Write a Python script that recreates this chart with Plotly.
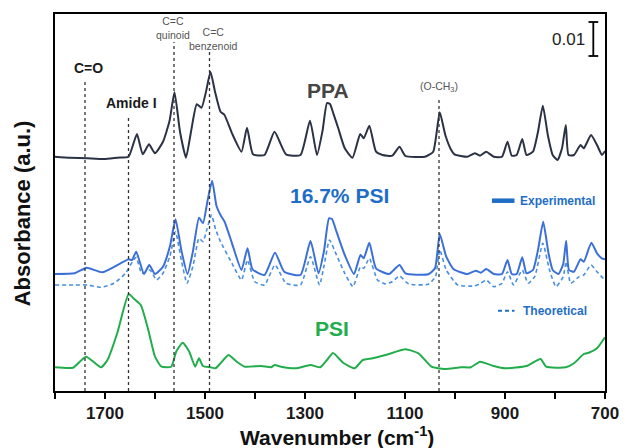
import plotly.graph_objects as go

# ---------------- data (wavenumber cm^-1, stacked absorbance in a.u.) ----------------
ppa_wn = [1800, 1770, 1735, 1702, 1675, 1653, 1643, 1636, 1624.5, 1612, 1600, 1584, 1571, 1561, 1550, 1538,
          1528, 1516.5, 1507, 1498, 1489, 1480, 1469, 1461, 1446, 1427, 1416, 1404, 1381, 1361, 1338, 1309,
          1290, 1276, 1265, 1256, 1250, 1243.4, 1233.5, 1220.5, 1205, 1189.6, 1182.5, 1171.3, 1158, 1145,
          1125.5, 1111, 1099, 1060, 1043.6, 1030.5, 1019.4, 1007.6, 1001, 975, 960.5, 950, 937.5, 922.5,
          906, 895, 886.5, 876.6, 865.5, 857, 844, 834, 824.3, 814.4, 804.6, 794.8, 786, 778.4, 773, 762,
          749, 742.4, 728, 716, 706, 700]
ppa_abs = [234.3, 233.3, 232.7, 232, 233.3, 234.3, 247.7, 257, 236.7, 246.7, 237.7, 249.3, 270, 298.7, 259.3, 233.3,
           259.3, 286.7, 283.3, 299.3, 319.3, 299.3, 279.3, 276, 257.7, 239.3, 263.3, 236.7, 236, 259.3, 236.7, 236,
           270.3, 236, 260, 288, 287, 277.7, 262.7, 242.7, 233.3, 257, 252.7, 265.3, 239.3, 236,
           235.3, 244.3, 235, 234.3, 239.3, 278.7, 256, 241, 236.7, 234.3, 237.7, 235.3, 239.3, 234.3,
           234.3, 249.3, 235.3, 236, 252, 236, 239.3, 259.3, 285.3, 256, 236, 231, 242.7, 266, 236, 236,
           246, 242.7, 256, 246, 236, 240]

exp_wn = [1800, 1760.7, 1736.5, 1705, 1652.7, 1646, 1637.6, 1622, 1611.4, 1600, 1584, 1570, 1559, 1547, 1535,
          1524, 1512, 1504, 1495, 1485.7, 1477, 1469, 1460.8, 1446, 1427, 1415, 1405, 1381, 1360, 1341.6, 1309,
          1289, 1273, 1262, 1252, 1246, 1237, 1220.5, 1202, 1189, 1182.5, 1171.3, 1158, 1132, 1111, 1099,
          1053.5, 1040, 1030.5, 1017.5, 1002.4, 975, 958.5, 948.6, 937.5, 922.5, 906, 895, 886.5, 876.6,
          865.5, 857, 844, 834, 823.6, 813, 804.6, 793, 783.6, 777.7, 772, 762, 749, 742.4, 727.3, 716,
          706.4, 700]
exp_abs = [117, 117.7, 123.3, 118.7, 131.7, 131, 139.3, 117, 126, 117, 124.3, 145, 171.7, 140, 117,
           140, 173.3, 167.7, 190, 210.3, 185, 176, 169.3, 147.7, 121, 142.7, 121.7, 116, 138.3, 119.3, 116,
           150, 117.7, 140, 172.7, 172, 159.3, 136, 117, 136, 132.7, 148.3, 122.7, 117, 126, 117.7,
           116.7, 122.7, 157, 134.3, 121.7, 117, 120.3, 118.3, 122, 117, 117, 131, 117, 117,
           133.7, 117.7, 121, 141, 169.3, 137.7, 121, 117, 127, 150.3, 121, 119.3, 131.7, 129.3, 148.3, 137.7,
           132.7, 131.7]

theo_wn = [1800, 1760, 1734.5, 1708, 1682, 1659, 1643, 1637.6, 1626.5, 1610, 1597, 1584, 1570, 1559, 1547,
           1536, 1524, 1512, 1504, 1496, 1487, 1479, 1469, 1446, 1427, 1415, 1400.5, 1381, 1360, 1338, 1309,
           1289, 1271, 1262, 1251, 1237, 1220.5, 1204, 1189, 1182.5, 1171.3, 1155, 1138.6, 1125.5, 1111,
           1092.7, 1053.5, 1039, 1030.5, 1017.5, 994.5, 962, 948.6, 937.5, 922.5, 906, 895, 883, 865.5,
           853.7, 840.6, 824.3, 811, 798, 783.6, 777.7, 768.6, 752, 742.4, 728, 716, 703, 700]
theo_abs = [106, 106, 106, 103.7, 107.7, 117.7, 131, 133.7, 117.7, 121, 111, 117.7, 135, 159.3, 130,
            107.7, 125, 152.7, 149.3, 162, 176, 162, 149.3, 127.7, 111, 131, 109.3, 106, 126, 107.7, 106,
            134.3, 106, 125, 151, 136, 117.7, 104.3, 124.3, 122.7, 132.7, 111, 107, 109.3, 115,
            107, 106.7, 114.3, 141, 121, 106, 105, 107.7, 111, 104.3, 107.7, 119.3, 106, 121,
            107.7, 114.3, 147.7, 121, 104.3, 114.3, 129.3, 107.7, 114.3, 116, 126, 119.3, 112.7, 114.3]

psi_wn = [1800, 1764, 1738, 1708, 1695, 1675.6, 1652.7, 1643, 1628.4, 1613.4, 1600, 1587, 1567.5, 1557.7,
          1544.6, 1531.5, 1519.7, 1512, 1504, 1489, 1479, 1469, 1453, 1436.5, 1420, 1387.4, 1367.8, 1361,
          1348, 1318.7, 1289, 1269.5, 1256, 1244, 1223.7, 1200.8, 1184.4, 1164.8, 1138.6, 1099, 1073, 1047,
          1020.7, 988, 968.3, 950, 922.5, 899.5, 857, 828.8, 817.7, 778.4, 762, 742.4, 732.5, 716, 700]
psi_abs = [23.7, 23.3, 34.3, 23.7, 31, 57.7, 97, 92.7, 86, 61, 34.3, 24.3, 24.3, 39.3,
           48.3, 39.3, 24.3, 32.7, 25, 23.7, 22.7, 27.7, 36, 29.3, 24.3, 25, 23.7, 26,
           24.3, 22.7, 26, 23.7, 31, 38, 28.3, 22.7, 31, 32.7, 36, 41.7, 37.7, 24.3,
           22, 23.7, 23.7, 29.3, 25, 22.7, 25, 32, 24.3, 23.7, 27.7, 37, 38.3, 42.7, 53.7]

band_wn = [1740, 1653, 1562, 1491, 1032]
band_top = [309, 273, 349, 339, 294]
band_labels = ["<b>C=O</b>", "<b>Amide I</b>", "C=C<br>quinoid", "C=C<br>benzenoid", "(O-CH<sub>3</sub>)"]
band_label_y = [323, 288, 363.5, 352, 304]

tick_vals = [1800, 1700, 1600, 1500, 1400, 1300, 1200, 1100, 1000, 900, 800, 700]
tick_text = [" " if v % 200 == 0 else "<b>%d</b>" % v for v in tick_vals]

scale_len = 34  # a.u. corresponding to 0.01 absorbance

FONT = "Liberation Sans, Arial, sans-serif"
C_PPA = "#2b3245"
C_EXP = "#3c70d8"
C_THEO = "#4a90dc"
C_PSI = "#22ad4c"
C_TXTBLUE = "#1f6ec6"

fig = go.Figure()
fig.add_trace(go.Scatter(x=psi_wn, y=psi_abs, mode="lines",
                         line=dict(color=C_PSI, width=2, shape="spline", smoothing=0.5)))
fig.add_trace(go.Scatter(x=theo_wn, y=theo_abs, mode="lines",
                         line=dict(color=C_THEO, width=1.6, dash="4px,3px", shape="spline", smoothing=0.5)))
fig.add_trace(go.Scatter(x=exp_wn, y=exp_abs, mode="lines",
                         line=dict(color=C_EXP, width=2, shape="spline", smoothing=0.5)))
fig.add_trace(go.Scatter(x=ppa_wn, y=ppa_abs, mode="lines",
                         line=dict(color=C_PPA, width=2, shape="spline", smoothing=0.5)))

shapes = []
for wn, top in zip(band_wn, band_top):
    shapes.append(dict(type="line", xref="x", yref="y", x0=wn, x1=wn, y0=0, y1=top,
                       line=dict(color="#333333", width=1.3, dash="3px,3px"), layer="above"))
# scale bar
shapes += [
    dict(type="line", xref="x", yref="y", x0=723.4, x1=723.4, y0=335, y1=335 + scale_len,
         line=dict(color="black", width=1.8)),
    dict(type="line", xref="x", yref="y", x0=733, x1=713.5, y0=335, y1=335, line=dict(color="black", width=1.8)),
    dict(type="line", xref="x", yref="y", x0=733, x1=713.5, y0=335 + scale_len, y1=335 + scale_len,
         line=dict(color="black", width=1.8)),
]
# legend samples
shapes += [
    dict(type="line", xref="x", yref="y", x0=926, x1=881, y0=190.3, y1=190.3, line=dict(color=C_TXTBLUE, width=4.5)),
    dict(type="line", xref="x", yref="y", x0=914, x1=881, y0=80.3, y1=80.3,
         line=dict(color=C_TXTBLUE, width=2, dash="4px,3px")),
]

ann = []
for i, (wn, txt, yy) in enumerate(zip(band_wn, band_labels, band_label_y)):
    if i < 2:
        f = dict(family=FONT, size=14, color="#1a1a1a")
        xx = [1734, 1647][i]
    else:
        f = dict(family=FONT, size=10.5, color="#555555")
        xx = [1564, 1484, 1032][i - 2]
    ann.append(dict(x=xx, y=yy, xref="x", yref="y", text=txt, showarrow=False, font=f,
                    xanchor="center", yanchor="middle"))
ann += [
    dict(x=1254, y=301, xref="x", yref="y", text="<b>PPA</b>", showarrow=False,
         font=dict(family=FONT, size=21, color="#454545")),
    dict(x=1232, y=196, xref="x", yref="y", text="<b>16.7% PSI</b>", showarrow=False,
         font=dict(family=FONT, size=21, color=C_TXTBLUE)),
    dict(x=1246, y=63, xref="x", yref="y", text="<b>PSI</b>", showarrow=False,
         font=dict(family=FONT, size=21, color=C_PSI)),
    dict(x=875, y=190.3, xref="x", yref="y", text="<b>Experimental</b>", showarrow=False, xanchor="left",
         font=dict(family=FONT, size=12, color=C_TXTBLUE)),
    dict(x=869, y=80.3, xref="x", yref="y", text="<b>Theoretical</b>", showarrow=False, xanchor="left",
         font=dict(family=FONT, size=12, color=C_TXTBLUE)),
    dict(x=736, y=352, xref="x", yref="y", text="0.01", showarrow=False, xanchor="right",
         font=dict(family=FONT, size=17, color="#222222")),
    dict(x=-0.059, y=0.47, xref="paper", yref="paper", text="<b>Absorbance (a.u.)</b>", showarrow=False,
         xanchor="center", yanchor="middle",
         textangle=-90, font=dict(family=FONT, size=22, color="#111111")),
    dict(x=0.5125, y=-0.119, xref="paper", yref="paper", text="<b>Wavenumber (cm<sup>-1</sup>)</b>",
         xanchor="center", yanchor="middle",
         showarrow=False, font=dict(family=FONT, size=21, color="#111111")),
]

fig.update_layout(
    width=631, height=448,
    margin=dict(l=55, r=16, t=14, b=57),
    paper_bgcolor="white", plot_bgcolor="white",
    showlegend=False, hovermode=False,
    shapes=shapes, annotations=ann,
    xaxis=dict(range=[1800, 700], tickmode="array", tickvals=tick_vals, ticktext=tick_text,
               ticks="outside", ticklen=6, tickwidth=1.5, tickcolor="black",
               showline=True, linecolor="black", linewidth=1.6, mirror=True,
               showgrid=False, zeroline=False,
               tickfont=dict(family=FONT, size=17, color="#1a1a1a")),
    yaxis=dict(range=[0, 377], showticklabels=False, ticks="",
               showline=True, linecolor="black", linewidth=1.6, mirror=True,
               showgrid=False, zeroline=False),
)

fig.write_html("out.html", config={"displayModeBar": False},
               post_script="document.body.style.margin='0px';")
